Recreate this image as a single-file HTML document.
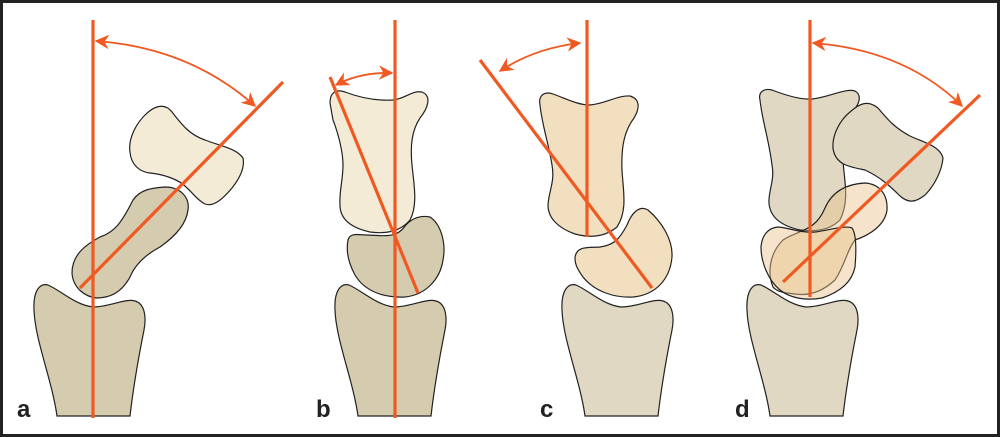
<!DOCTYPE html>
<html><head><style>html,body{margin:0;padding:0;background:#fff}svg{display:block}</style></head><body>
<svg width="1000" height="437" viewBox="0 0 1000 437" xmlns="http://www.w3.org/2000/svg">
<defs>
<marker id="ah" viewBox="0 0 10 10" refX="9" refY="5" markerWidth="8" markerHeight="8" orient="auto-start-reverse"><path d="M0,0 L10,5 L0,10 L3,5 Z" fill="#f05a22"/></marker>
<path id="rad" d="M23,416 C18,380 1,340 0,310 C-1,290 6,283 14,285 C26,290 41,305 59,307 C76,307 91,298 101,301 C112,304 112,320 110,330 C104,360 99,390 96,416 Z"/>
</defs>
<rect x="0" y="0" width="1000" height="437" fill="#222"/>
<rect x="3" y="3" width="994" height="431" fill="#fff"/>
<g stroke="#222" stroke-width="1.2">
<use href="#rad" x="34" fill="#d5cbaf"/>
<path fill="#d5cbaf" d="M72,273 C72,255 85,245 100,237 C115,232 122,222 133,200 C140,190 150,188 165,187 C180,187 190,197 188,210 C186,227 170,240 160,247 C145,255 135,265 130,277 C122,292 110,298 97,298 C85,297 73,288 72,273 Z"/>
<path fill="#f4ebd6" d="M130,152 C128,140 135,125 145,115 C155,105 165,103 172,112 C182,125 190,135 205,140 C220,146 236,148 243,158 C245,168 240,178 232,188 C222,200 213,207 205,204 C197,200 192,192 187,188 C178,178 160,174 150,173 C140,172 131,165 130,152 Z"/>
<use href="#rad" x="335" fill="#d5cbaf"/>
<path fill="#d5cbaf" d="M348,240 C350,232 360,235 367,235 C385,236 397,238 405,226 C412,218 420,215 430,217 C442,225 446,245 443,260 C440,280 425,295 405,297 C385,298 365,292 355,275 C348,262 346,250 348,240 Z"/>
<path fill="#f4ebd6" d="M330,103 C330,92 336,89 345,92 C358,97 375,101 393,100 C405,99 412,90 422,92 C432,96 428,108 420,118 C412,130 410,145 412,165 C414,185 418,205 410,220 C400,232 385,234 370,232 C352,228 340,220 340,205 C339,192 343,180 343,165 C343,150 337,130 333,120 Z"/>
<use href="#rad" x="562" fill="#e0d8c2"/>
<path fill="#f1dfbf" d="M575,258 C576,245 590,248 600,247 C615,245 620,238 627,225 C632,212 640,205 648,210 C662,222 673,240 672,257 C670,280 655,295 633,297 C615,298 595,292 583,277 C578,270 575,265 575,258 Z"/>
<path fill="#f1dfbf" d="M540,105 C538,95 545,91 553,94 C567,99 578,105 590,105 C605,104 618,95 630,96 C640,99 640,108 634,118 C625,130 621,145 622,170 C623,190 628,210 617,227 C605,237 590,238 575,234 C558,228 548,218 548,205 C549,190 555,182 552,165 C549,145 542,125 540,105 Z"/>
<use href="#rad" x="747" fill="#e0d8c2"/>
<path fill="#e0d8c2" d="M760,100 C758,92 764,88 772,90 C785,95 800,100 812,99 C830,97 845,88 855,91 C862,95 860,104 852,112 C845,125 842,140 843,160 C844,180 850,200 840,220 C830,230 815,232 800,230 C782,226 770,218 769,203 C768,192 775,180 772,165 C769,140 762,120 760,100 Z"/>
<path fill="#e0d8c2" d="M833,148 C832,135 840,120 850,112 C860,103 868,100 878,108 C888,120 895,128 910,136 C925,143 940,146 943,158 C942,170 935,185 925,195 C915,203 908,203 900,196 C890,186 880,177 865,170 C850,167 835,165 833,148 Z"/>
<path fill="rgba(232,195,140,0.45)" d="M773,287 C768,275 768,255 783,240 C798,230 815,232 825,208 C832,192 845,184 865,183 C880,184 888,195 887,210 C885,225 870,235 855,240 C847,250 845,265 835,280 C822,292 808,296 795,294 C785,293 777,292 773,287 Z"/>
<path fill="rgba(232,195,140,0.45)" d="M761,247 C762,235 768,228 778,227 C790,228 800,233 815,232 C830,230 845,225 852,228 C857,235 856,255 855,267 C852,282 840,292 822,298 C805,301 790,298 780,290 C768,280 761,262 761,247 Z"/>
</g>
<g stroke="#f05a22" stroke-width="3.2" fill="none" stroke-linecap="butt">
<line x1="93" y1="20" x2="93" y2="418"/>
<line x1="80" y1="288" x2="283" y2="82"/>
<line x1="395" y1="20" x2="395" y2="418"/>
<line x1="330" y1="77" x2="418" y2="293"/>
<line x1="587" y1="20" x2="587" y2="237"/>
<line x1="480" y1="60" x2="652" y2="288"/>
<line x1="810" y1="20" x2="810" y2="297"/>
<line x1="783" y1="282" x2="980" y2="95"/>
</g>
<g stroke="#f05a22" stroke-width="1.8" fill="none" marker-start="url(#ah)" marker-end="url(#ah)">
<path d="M96,41 Q190,48 255,106"/>
<path d="M336,85 Q360,72 392,73"/>
<path d="M500,71 Q535,48 580,43"/>
<path d="M813,43 Q905,50 962,106"/>
</g>
<g font-family="Liberation Sans, sans-serif" font-weight="bold" font-size="24" fill="#222">
<text x="17" y="417">a</text>
<text x="316" y="417">b</text>
<text x="540" y="417">c</text>
<text x="735" y="417">d</text>
</g>
</svg>
</body></html>
